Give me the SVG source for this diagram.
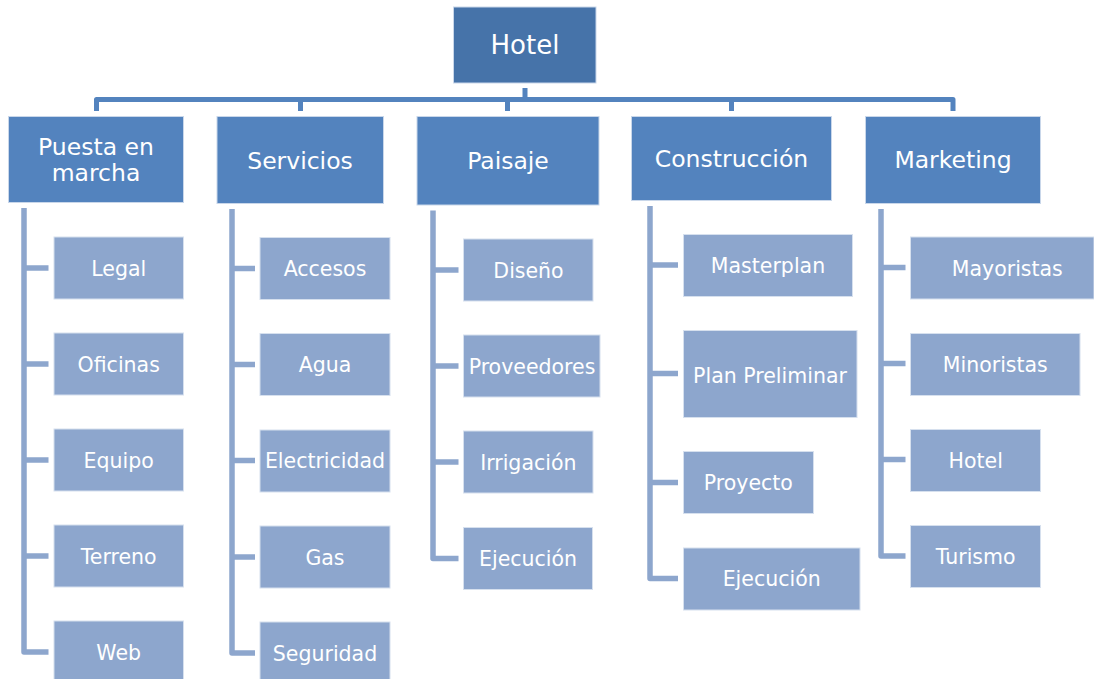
<svg xmlns="http://www.w3.org/2000/svg" width="1094" height="679" viewBox="0 0 1094 679">
<style>
.top{fill:#4673A9;stroke:#c9d7ea;stroke-width:1}
.l1{fill:#5383BE;stroke:#c9d7ea;stroke-width:1}
.l2{fill:#8DA6CD;stroke:#d6e0ee;stroke-width:1}
text{font-family:"DejaVu Sans","Verdana",sans-serif;fill:#ffffff;text-anchor:middle}
.t0{font-size:26px}
.t1{font-size:23.5px}
.t2{font-size:20.5px}
.c1{fill:none;stroke:#5383BE;stroke-width:5;stroke-linejoin:round}
.c2{fill:none;stroke:#8DA6CD;stroke-width:5.5;stroke-linejoin:round}
</style>
<rect width="1094" height="679" fill="#ffffff"/>
<g id="connectors">
<path class="c1" d="M525 88V99.5M96.5 111V99.5H953V111M300.5 99.5V111M507.5 99.5V111M731.5 99.5V111"/>
<path class="c2" d="M24 208V652H48.5M24 268H48.5M24 364H48.5M24 460H48.5M24 556H48.5"/>
<path class="c2" d="M232 209V653H255M232 268.5H255M232 364.5H255M232 460.5H255M232 557H255"/>
<path class="c2" d="M433 210.5V558.5H458.5M433 270H458.5M433 366H458.5M433 462H458.5"/>
<path class="c2" d="M650 206V578.5H678M650 265H678M650 373.5H678M650 482.5H678"/>
<path class="c2" d="M881 209V556H905.5M881 267.5H905.5M881 363.5H905.5M881 459.5H905.5"/>
</g>
<g id="hotel"><rect class="top" x="453.5" y="7" width="142.5" height="76"/><text class="t0" x="525" y="54">Hotel</text></g>
<g id="puesta"><rect class="l1" x="8.5" y="116.5" width="175" height="86"/><text class="t1" x="96" y="155">Puesta en</text><text class="t1" x="96" y="181">marcha</text></g>
<g id="servicios"><rect class="l1" x="217" y="116.5" width="166.5" height="87"/><text class="t1" x="300" y="169">Servicios</text></g>
<g id="paisaje"><rect class="l1" x="417" y="116.5" width="182" height="88.5"/><text class="t1" x="508" y="169">Paisaje</text></g>
<g id="construccion"><rect class="l1" x="631.5" y="116.5" width="200" height="84"/><text class="t1" x="731.5" y="166.5">Construcción</text></g>
<g id="marketing"><rect class="l1" x="865.5" y="116.5" width="175" height="87"/><text class="t1" x="953" y="168">Marketing</text></g>

<g id="legal"><rect class="l2" x="54" y="237" width="129.5" height="62"/><text class="t2" x="118.7" y="275.5">Legal</text></g>
<g id="oficinas"><rect class="l2" x="54" y="333" width="129.5" height="62"/><text class="t2" x="118.7" y="371.5">Oficinas</text></g>
<g id="equipo"><rect class="l2" x="54" y="429" width="129.5" height="62"/><text class="t2" x="118.7" y="467.5">Equipo</text></g>
<g id="terreno"><rect class="l2" x="54" y="525" width="129.5" height="62"/><text class="t2" x="118.7" y="563.5">Terreno</text></g>
<g id="web"><rect class="l2" x="54" y="621" width="129.5" height="62"/><text class="t2" x="118.7" y="659.5">Web</text></g>

<g id="accesos"><rect class="l2" x="260" y="237.5" width="130" height="62"/><text class="t2" x="325" y="276">Accesos</text></g>
<g id="agua"><rect class="l2" x="260" y="333.5" width="130" height="62"/><text class="t2" x="325" y="372">Agua</text></g>
<g id="electricidad"><rect class="l2" x="260" y="430" width="130" height="62"/><text class="t2" x="325" y="468">Electricidad</text></g>
<g id="gas"><rect class="l2" x="260" y="526" width="130" height="62"/><text class="t2" x="325" y="564.5">Gas</text></g>
<g id="seguridad"><rect class="l2" x="260" y="622" width="130" height="62"/><text class="t2" x="325" y="660.5">Seguridad</text></g>

<g id="diseno"><rect class="l2" x="463.5" y="239" width="129.5" height="62"/><text class="t2" x="528.5" y="277.5">Diseño</text></g>
<g id="proveedores"><rect class="l2" x="463.5" y="335" width="136.5" height="62"/><text class="t2" x="532" y="373.5">Proveedores</text></g>
<g id="irrigacion"><rect class="l2" x="463.5" y="431" width="129.5" height="62"/><text class="t2" x="528.3" y="469.5">Irrigación</text></g>
<g id="ejecucion1"><rect class="l2" x="463.5" y="527.5" width="129" height="62"/><text class="t2" x="528" y="565.5">Ejecución</text></g>

<g id="masterplan"><rect class="l2" x="683.5" y="234.5" width="169" height="62"/><text class="t2" x="768" y="272.5">Masterplan</text></g>
<g id="planpreliminar"><rect class="l2" x="683.5" y="330.5" width="173.5" height="87"/><text class="t2" x="770" y="382.5">Plan Preliminar</text></g>
<g id="proyecto"><rect class="l2" x="683.5" y="451.5" width="130" height="62"/><text class="t2" x="748.3" y="490">Proyecto</text></g>
<g id="ejecucion2"><rect class="l2" x="683.5" y="548" width="176.5" height="62"/><text class="t2" x="771.7" y="586">Ejecución</text></g>

<g id="mayoristas"><rect class="l2" x="910.5" y="237" width="183.5" height="62"/><text class="t2" x="1007.3" y="275.5">Mayoristas</text></g>
<g id="minoristas"><rect class="l2" x="910.5" y="333.5" width="169.5" height="62"/><text class="t2" x="995.3" y="371.5">Minoristas</text></g>
<g id="hotel2"><rect class="l2" x="910.5" y="429.5" width="130" height="62"/><text class="t2" x="975.7" y="467.5">Hotel</text></g>
<g id="turismo"><rect class="l2" x="910.5" y="525.5" width="130" height="62"/><text class="t2" x="975.7" y="564">Turismo</text></g>
</svg>
